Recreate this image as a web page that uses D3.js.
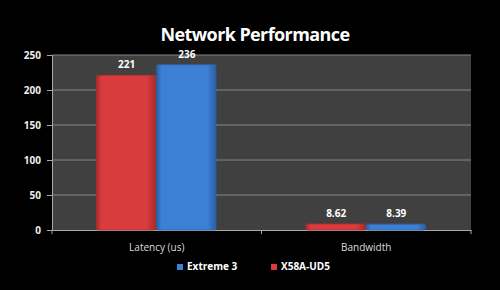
<!DOCTYPE html>
<html>
<head>
<meta charset="utf-8">
<script src="https://cdn.jsdelivr.net/npm/d3@7"></script>
<style>
  html, body { margin: 0; padding: 0; background: #000; }
  svg { display: block; font-family: "Open Sans", "DejaVu Sans", sans-serif; }
</style>
</head>
<body>
<div id="plot"></div>
<script>
// chart data
var categories = ["Latency (us)", "Bandwidth"];
var seriesNames = ["X58A-UD5", "Extreme 3"];
var x58Values = [221, 8.62];
var extremeValues = [236, 8.39];
var valueLabels = [["221", "8.62"], ["236", "8.39"]];
var yTicks = [0, 50, 100, 150, 200, 250];
var legendOrder = ["Extreme 3", "X58A-UD5"];

var svgWidth = 500;
var svgHeight = 290;
var margin = { top: 55, right: 29, bottom: 60, left: 52 };
var width = svgWidth - margin.left - margin.right;
var height = svgHeight - margin.top - margin.bottom;

var colors = { "X58A-UD5": "#d83c3c", "Extreme 3": "#3c80d4" };

var svg = d3.select("#plot")
  .append("svg")
  .attr("width", svgWidth)
  .attr("height", svgHeight);

var defs = svg.append("defs");
function gradient(id, mid, dark) {
  var g = defs.append("linearGradient").attr("id", id)
    .attr("x1", 0).attr("x2", 1).attr("y1", 0).attr("y2", 0);
  g.append("stop").attr("offset", "0%").attr("stop-color", dark);
  g.append("stop").attr("offset", "8%").attr("stop-color", mid);
  g.append("stop").attr("offset", "85%").attr("stop-color", mid);
  g.append("stop").attr("offset", "100%").attr("stop-color", dark);
}
gradient("gradRed", "#d83c3c", "#a82a2a");
gradient("gradBlue", "#3c80d4", "#2a5ea8");

svg.append("rect")
  .attr("width", svgWidth).attr("height", svgHeight)
  .attr("fill", "#000");

// title
svg.append("text")
  .attr("x", 255)
  .attr("y", 41)
  .attr("text-anchor", "middle")
  .attr("fill", "#fff")
  .attr("font-size", 18)
  .attr("font-weight", "bold")
  .attr("letter-spacing", -0.6)
  .text("Network Performance");

var chartGroup = svg.append("g")
  .attr("transform", `translate(${margin.left}, ${margin.top})`);

chartGroup.append("rect")
  .attr("width", width).attr("height", height)
  .attr("fill", "#404040");

var x0 = d3.scaleBand()
  .domain(categories)
  .range([0, width]);

var x1 = d3.scaleBand()
  .domain(seriesNames)
  .range([0, x0.bandwidth()])
  .paddingInner(0)
  .paddingOuter(0.74);

var y = d3.scaleLinear()
  .domain([0, 250])
  .range([height, 0]);

// gridlines
chartGroup.selectAll(".grid")
  .data(yTicks.filter(d => d > 0))
  .enter()
  .append("line")
  .attr("x1", 0).attr("x2", width)
  .attr("y1", d => y(d)).attr("y2", d => y(d))
  .attr("stroke", "#858585")
  .attr("stroke-width", 1);

// y axis
var leftAxis = d3.axisLeft(y).tickValues(yTicks).tickSize(5).tickPadding(6);
var yAxisG = chartGroup.append("g").call(leftAxis);
yAxisG.select(".domain").attr("stroke", "#aaa");
yAxisG.selectAll(".tick line").attr("stroke", "#aaa");
yAxisG.selectAll(".tick text")
  .attr("fill", "#eee")
  .attr("font-size", 10)
  .attr("font-weight", "bold")
  .attr("font-family", "\"Open Sans\", sans-serif");

// x axis
var bottomAxis = d3.axisBottom(x0).tickSize(0).tickPadding(14);
var xAxisG = chartGroup.append("g")
  .attr("transform", `translate(0, ${height})`)
  .call(bottomAxis);
xAxisG.select(".domain").attr("stroke", "#aaa");
xAxisG.selectAll(".tick text")
  .attr("fill", "#ddd")
  .attr("font-size", 10)
  .attr("font-family", "\"Open Sans\", sans-serif");
// category separators
chartGroup.selectAll(".sep")
  .data([0, width / 2, width])
  .enter()
  .append("line")
  .attr("x1", d => d).attr("x2", d => d)
  .attr("y1", height).attr("y2", height + 4)
  .attr("stroke", "#aaa");

// bars
var seriesData = [x58Values, extremeValues];
seriesNames.forEach(function (name, si) {
  var g = chartGroup.append("g");
  var rows = categories.map((c, i) => ({ cat: c, value: seriesData[si][i], label: valueLabels[si][i] }));
  g.selectAll("rect")
    .data(rows)
    .enter()
    .append("rect")
    .attr("x", d => x0(d.cat) + x1(name))
    .attr("y", d => y(d.value))
    .attr("width", x1.bandwidth() - 1)
    .attr("height", d => height - y(d.value))
    .attr("rx", 1.5)
    .attr("fill", si === 0 ? "url(#gradRed)" : "url(#gradBlue)")
    .attr("stroke", si === 0 ? "#b03030" : "#2f66b0")
    .attr("stroke-width", 0.8);
  g.selectAll("text")
    .data(rows)
    .enter()
    .append("text")
    .attr("x", d => x0(d.cat) + x1(name) + x1.bandwidth() / 2)
    .attr("y", d => y(d.value) - 7)
    .attr("text-anchor", "middle")
    .attr("fill", "#fff")
    .attr("font-size", 10)
    .attr("font-weight", "bold")
    .text(d => d.label);
});

// legend
var legendX = [177, 271];
var legend = svg.selectAll(".legend")
  .data(legendOrder)
  .enter()
  .append("g")
  .attr("transform", (d, i) => `translate(${legendX[i]}, 270)`);
legend.append("rect")
  .attr("x", 0).attr("y", -6)
  .attr("width", 6).attr("height", 6)
  .attr("fill", d => colors[d]);
legend.append("text")
  .attr("x", 10).attr("y", 0)
  .attr("fill", "#fff")
  .attr("font-size", 10)
  .attr("font-weight", "bold")
  .text(d => d);
</script>
</body>
</html>
